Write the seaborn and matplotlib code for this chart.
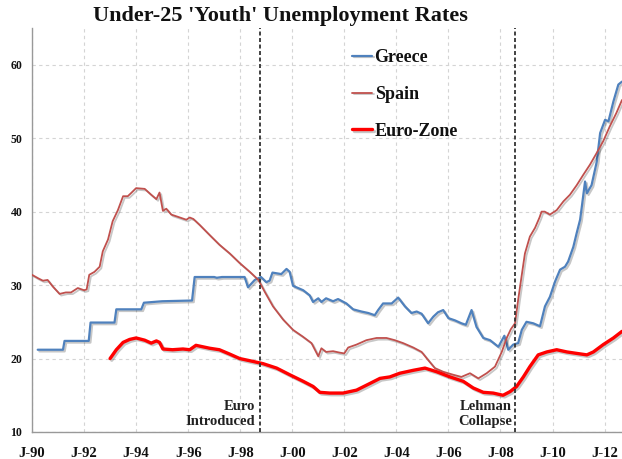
import matplotlib
matplotlib.use("Agg")
import matplotlib.pyplot as plt
import matplotlib.patheffects as pe
import seaborn as sns
import pandas as pd

# ---------------- data ----------------
greece_years = [1990.22, 1991.19, 1991.25, 1992.18, 1992.25, 1993.17, 1993.24, 1994.2, 1994.3,
                1995.0, 1996.15, 1996.25, 1997.0, 1997.1, 1997.3, 1998.17, 1998.3, 1998.56,
                1998.8, 1999.0, 1999.13, 1999.24, 1999.58, 1999.78, 1999.9, 2000.03, 2000.42,
                2000.67, 2000.8, 2001.0, 2001.12, 2001.3, 2001.57, 2001.76, 2002.08, 2002.34,
                2002.66, 2002.92, 2003.17, 2003.3, 2003.49, 2003.82, 2004.07, 2004.33, 2004.58,
                2004.78, 2004.97, 2005.22, 2005.42, 2005.6, 2005.8, 2006.0, 2006.25, 2006.5,
                2006.67, 2006.89, 2007.08, 2007.34, 2007.6, 2007.92, 2008.15, 2008.3, 2008.49,
                2008.68, 2008.82, 2009.0, 2009.26, 2009.52, 2009.71, 2009.9, 2010.1, 2010.29,
                2010.48, 2010.6, 2010.8, 2010.93, 2011.06, 2011.12, 2011.25, 2011.32, 2011.5,
                2011.7, 2011.83, 2012.02, 2012.15, 2012.34, 2012.53, 2012.67]
greece_rates = [21.2, 21.2, 22.4, 22.4, 24.9, 24.9, 26.7, 26.7, 27.6,
                27.8, 27.9, 31.1, 31.1, 31.0, 31.1, 31.1, 29.7, 30.7,
                31.1, 30.4, 30.6, 31.7, 31.5, 32.2, 31.8, 29.9, 29.3,
                28.6, 27.7, 28.2, 27.7, 28.2, 27.8, 28.1, 27.5, 26.7,
                26.4, 26.2, 25.9, 26.6, 27.5, 27.5, 28.3, 27.1, 26.2,
                26.4, 26.1, 24.8, 25.7, 26.3, 26.6, 25.5, 25.2, 24.8,
                24.6, 26.6, 24.3, 22.8, 22.5, 21.6, 23.1, 21.2, 21.9,
                22.1, 23.9, 25.0, 24.8, 24.4, 27.1, 28.4, 30.5, 32.1,
                32.5, 33.2, 35.2, 37.1, 38.9, 40.5, 44.1, 42.5, 43.6,
                46.8, 50.7, 52.5, 52.3, 55.0, 57.3, 57.7]

spain_years = [1990.0, 1990.25, 1990.42, 1990.6, 1990.8, 1991.06, 1991.3, 1991.5, 1991.76,
               1992.0, 1992.1, 1992.2, 1992.4, 1992.6, 1992.72, 1992.92, 1993.1, 1993.3,
               1993.5, 1993.68, 1993.8, 1994.0, 1994.33, 1994.58, 1994.78, 1994.9, 1995.03,
               1995.16, 1995.35, 1995.6, 1995.93, 1996.06, 1996.2, 1996.44, 1996.83, 1997.2,
               1997.6, 1997.98, 1998.37, 1998.7, 1998.94, 1999.26, 1999.65, 2000.03, 2000.4,
               2000.74, 2000.87, 2001.0, 2001.12, 2001.3, 2001.57, 2001.83, 2002.0, 2002.15,
               2002.47, 2002.85, 2003.24, 2003.62, 2003.94, 2004.26, 2004.65, 2004.97, 2005.22,
               2005.48, 2005.8, 2006.18, 2006.5, 2006.83, 2007.15, 2007.47, 2007.79, 2008.05,
               2008.24, 2008.4, 2008.56, 2008.68, 2008.82, 2008.94, 2009.13, 2009.33, 2009.5,
               2009.58, 2009.7, 2009.9, 2010.16, 2010.42, 2010.67, 2010.93, 2011.18, 2011.44,
               2011.7, 2011.95, 2012.2, 2012.45, 2012.67]
spain_rates = [31.4, 30.9, 30.6, 30.7, 29.8, 28.8, 29.0, 29.0, 29.6,
               29.3, 29.4, 31.4, 31.8, 32.5, 34.6, 36.2, 38.7, 40.2,
               42.1, 42.1, 42.5, 43.2, 43.1, 42.3, 41.7, 42.6, 40.1,
               40.4, 39.6, 39.3, 38.9, 39.2, 39.0, 38.2, 36.8, 35.5,
               34.3, 33.0, 31.8, 30.7, 29.1, 27.1, 25.3, 23.9, 23.0,
               22.1, 21.2, 20.3, 21.4, 20.9, 21.0, 20.8, 20.7, 21.5,
               21.9, 22.5, 22.8, 22.8, 22.5, 22.1, 21.5, 20.9, 19.8,
               18.7, 18.2, 17.8, 17.5, 18.0, 17.3, 18.0, 18.9, 20.9,
               22.8, 24.0, 24.8, 28.0, 31.4, 34.3, 36.6, 37.8, 39.2,
               40.0, 40.0, 39.6, 40.2, 41.4, 42.3, 43.6, 45.0, 46.4,
               48.0, 49.6, 51.6, 53.4, 55.2]

euro_years = [1993.0, 1993.24, 1993.5, 1993.75, 1994.0, 1994.33, 1994.58, 1994.78, 1994.9,
              1995.03, 1995.4, 1995.8, 1996.06, 1996.3, 1996.83, 1997.2, 1997.6, 1997.98,
              1998.5, 1998.88, 1999.4, 1999.9, 2000.42, 2000.8, 2001.06, 2001.44, 2001.95,
              2002.47, 2002.98, 2003.37, 2003.75, 2004.13, 2004.65, 2005.1, 2005.55, 2006.06,
              2006.57, 2006.95, 2007.34, 2007.72, 2008.1, 2008.37, 2008.62, 2008.88, 2009.13,
              2009.45, 2009.78, 2010.16, 2010.55, 2010.93, 2011.32, 2011.57, 2011.95, 2012.34,
              2012.67]
euro_rates = [20.0, 21.2, 22.2, 22.6, 22.8, 22.5, 22.1, 22.4, 22.2,
              21.3, 21.2, 21.3, 21.2, 21.8, 21.4, 21.2, 20.6, 20.0,
              19.6, 19.3, 18.7, 17.8, 16.9, 16.2, 15.4, 15.3, 15.3,
              15.7, 16.6, 17.3, 17.5, 18.0, 18.4, 18.7, 18.2, 17.5,
              16.9, 16.0, 15.4, 15.3, 15.0, 15.5, 16.2, 17.5, 18.9,
              20.5, 20.9, 21.2, 20.9, 20.7, 20.5, 20.9, 21.9, 22.8,
              23.7]

tick_years = list(range(1990, 2013, 2))
tick_labels = ["J-90", "J-92", "J-94", "J-96", "J-98", "J-00",
               "J-02", "J-04", "J-06", "J-08", "J-10", "J-12"]
y_ticks = [10, 20, 30, 40, 50, 60]

events = [1998.76, 2008.54]
event_labels = ["Euro\nIntroduced", "Lehman\nCollapse"]

series_names = ["Greece", "Spain", "Euro-Zone"]
series_colors = ["#4F81BD", "#C0504D", "#FF0000"]
series_widths = [1.6, 1.3, 2.4]

# ---------------- figure ----------------
sns.set_style("white")
serif = ["Liberation Serif", "DejaVu Serif"]
plt.rcParams["font.family"] = serif

fig = plt.figure(figsize=(6.22, 4.59), dpi=100)
ax = fig.add_axes([32 / 622, 27 / 459, 590 / 622, 404 / 459])

frames = [
    pd.DataFrame({"year": greece_years, "rate": greece_rates}),
    pd.DataFrame({"year": spain_years, "rate": spain_rates}),
    pd.DataFrame({"year": euro_years, "rate": euro_rates}),
]

shadow = [pe.SimpleLineShadow(offset=(1.2, -1.2), shadow_color="black", alpha=0.22),
          pe.Normal()]
for df, name, col, lw in zip(frames, series_names, series_colors, series_widths):
    sns.lineplot(data=df, x="year", y="rate", ax=ax, color=col, linewidth=lw,
                 label=name, zorder=3)
for line in ax.lines:
    line.set_path_effects(shadow)

for xv in events:
    ax.axvline(xv, color="#333333", linestyle=(0, (2.2, 1.4)), linewidth=1.3, zorder=4)

ax.text(events[0] - 0.17, 12.45, event_labels[0], ha="right", va="center",
        multialignment="right", fontsize=10.5, fontweight="bold", color="#222222",
        linespacing=1.12)
ax.text(events[1] - 0.1, 12.45, event_labels[1], ha="right", va="center",
        multialignment="right", fontsize=10.5, fontweight="bold", color="#222222",
        linespacing=1.12)

ax.set_xlim(1990, 2012.67)
ax.set_ylim(10, 65)
ax.set_xticks(tick_years)
ax.set_xticklabels(tick_labels)
ax.set_yticks(y_ticks)
ax.set_xlabel("")
ax.set_ylabel("")

ax.grid(True, color="#d4d4d4", linestyle=(0, (3, 3)), linewidth=0.8)
ax.set_axisbelow(True)
for s in ["top", "right"]:
    ax.spines[s].set_visible(False)
for s in ["left", "bottom"]:
    ax.spines[s].set_color("#999999")
    ax.spines[s].set_linewidth(1.0)

ax.tick_params(axis="x", length=0, pad=11, labelsize=10.5, labelcolor="#111111")
ax.tick_params(axis="y", length=3, color="#999999", pad=4, labelsize=8.5, labelcolor="#111111")
for t in ax.get_xticklabels() + ax.get_yticklabels():
    t.set_fontweight("bold")

leg = ax.legend(loc="upper left", bbox_to_anchor=(352 / 622, 1 - 49 / 459),
                bbox_transform=fig.transFigure, frameon=False, fontsize=13,
                handlelength=1.1, handletextpad=0.15, labelspacing=1.1,
                borderpad=0, borderaxespad=0)
for t in leg.get_texts():
    t.set_fontweight("bold")
    t.set_color("#111111")
for h, lw in zip(leg.get_lines(), series_widths):
    h.set_linewidth(lw)

fig.text(280 / 622, 1 - 16 / 459, "Under-25 'Youth' Unemployment Rates",
         ha="center", va="center", fontsize=16, fontweight="bold", color="#111111")

fig.savefig("out.png", dpi=100)
